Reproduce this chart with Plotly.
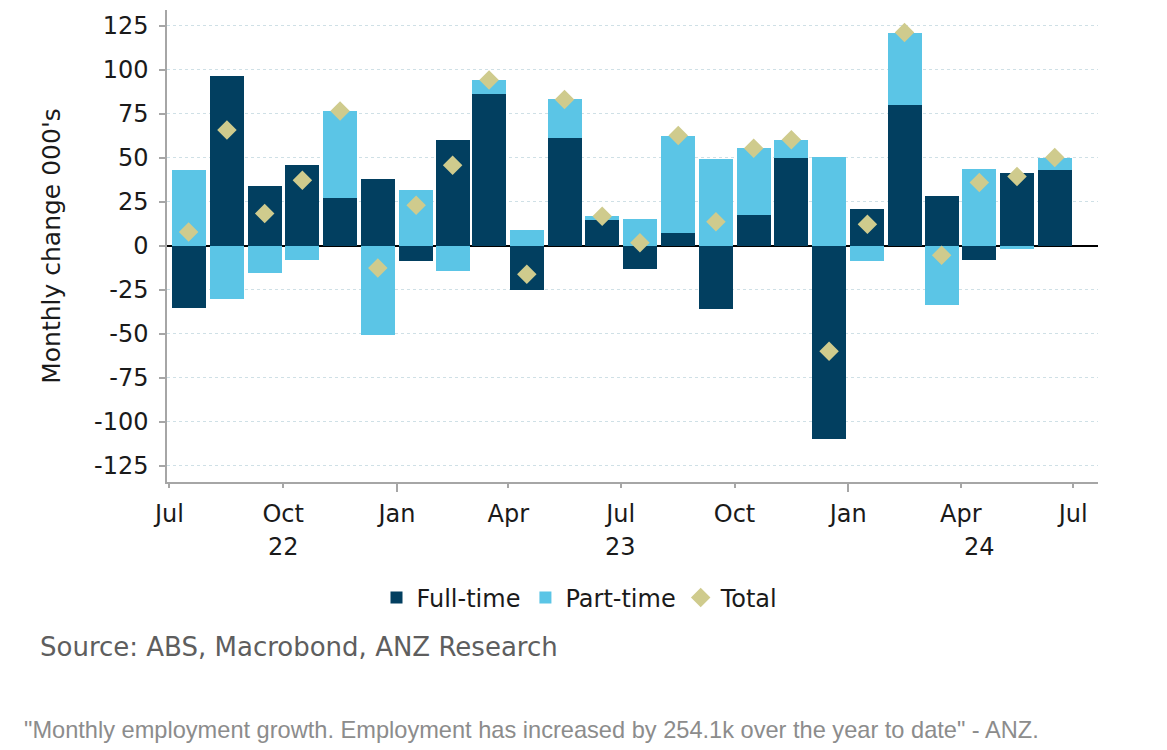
import plotly.graph_objects as go

months = ["2022-07-01", "2022-08-01", "2022-09-01", "2022-10-01", "2022-11-01", "2022-12-01",
          "2023-01-01", "2023-02-01", "2023-03-01", "2023-04-01", "2023-05-01", "2023-06-01",
          "2023-07-01", "2023-08-01", "2023-09-01", "2023-10-01", "2023-11-01", "2023-12-01",
          "2024-01-01", "2024-02-01", "2024-03-01", "2024-04-01", "2024-05-01", "2024-06-01"]

full_time = [-35.4, 96.2, 33.7, 45.6, 27.1, 37.9,
             -8.9, 60.2, 86.2, -25.2, 61.2, 14.8,
             -13.4, 7.0, -35.8, 17.6, 49.8, -110.0,
             20.8, 80.1, 28.2, -8.0, 41.1, 43.2]

part_time = [43.0, -30.5, -15.7, -8.3, 49.6, -50.8,
             31.8, -14.6, 7.9, 8.7, 21.9, 1.9,
             15.0, 55.5, 49.2, 37.7, 10.2, 50.2,
             -8.7, 40.9, -33.7, 43.8, -1.9, 6.8]

total = [7.8, 65.7, 18.2, 37.1, 76.5, -12.7,
         23.0, 45.7, 94.0, -16.2, 83.0, 16.7,
         1.7, 62.5, 13.6, 55.3, 60.1, -59.9,
         12.1, 121.0, -5.5, 35.9, 39.3, 50.0]

tick_vals = ["2022-07-01", "2022-10-01", "2023-01-01", "2023-04-01", "2023-07-01",
             "2023-10-01", "2024-01-01", "2024-04-01", "2024-07-01"]
tick_text = ["Jul", "Oct", "Jan", "Apr", "Jul", "Oct", "Jan", "Apr", "Jul"]

year_pos = ["2022-10-01", "2023-07-01", "2024-04-16"]
year_text = ["22", "23", "24"]

FT_COLOR = "#023f60"
PT_COLOR = "#5bc5e6"
TOT_COLOR = "#cfcb8d"
FONT = "DejaVu Sans"
DAY_MS = 86400000

# page offset (browser body margin)
OFF = 8
W, H = 1159, 742
plot_l, plot_r, plot_t, plot_b = 167 - OFF, 1098 - OFF, 10 - OFF, 482 - OFF

fig = go.Figure()
fig.add_trace(go.Bar(x=months, y=full_time, name="Full-time", marker_color=FT_COLOR,
                     marker_line_width=0, xperiod="M1", xperiodalignment="middle",
                     width=27.5 * DAY_MS))
fig.add_trace(go.Bar(x=months, y=part_time, name="Part-time", marker_color=PT_COLOR,
                     marker_line_width=0, xperiod="M1", xperiodalignment="middle",
                     width=27.5 * DAY_MS))
fig.add_trace(go.Scatter(x=months, y=total, name="Total", mode="markers",
                         marker=dict(symbol="diamond", size=15, color=TOT_COLOR),
                         xperiod="M1", xperiodalignment="middle"))


def px_to_paper(sx, sy):
    fx, fy = sx - OFF, sy - OFF
    return (fx - plot_l) / (plot_r - plot_l), (plot_b - fy) / (plot_b - plot_t)


leg_x, leg_y = px_to_paper(580, 598)

fig.update_layout(
    width=W, height=H,
    margin=dict(l=plot_l, r=W - plot_r, t=plot_t, b=H - plot_b),
    plot_bgcolor="white", paper_bgcolor="white",
    barmode="relative", bargap=0,
    font=dict(family=FONT, size=23, color="#1a1a1a"),
    showlegend=True,
    legend=dict(orientation="h", x=leg_x, xanchor="center", y=leg_y, yanchor="middle",
                font=dict(size=24, color="#1a1a1a"), itemwidth=30, traceorder="normal",
                tracegroupgap=0),
)

fig.update_xaxes(
    type="date", range=["2022-06-29", "2024-07-21"],
    tickvals=tick_vals, ticktext=tick_text,
    ticks="outside", ticklen=4, tickcolor="#a6a6a6", tickwidth=1.5,
    showline=True, linecolor="#a6a6a6", linewidth=1.5,
    showgrid=False, zeroline=False,
    tickfont=dict(size=24, color="#1a1a1a"),
    minor=dict(dtick="M12", tick0="2022-01-01", ticks="outside", ticklen=8,
               tickcolor="#a6a6a6", tickwidth=1.5, showgrid=False),
    ticklabelstandoff=5,
)

fig.update_yaxes(
    range=[-134.2, 133.8],
    tickvals=[-125, -100, -75, -50, -25, 0, 25, 50, 75, 100, 125],
    ticktext=["-125", "-100", "-75", "-50", "-25", "0", "25", "50", "75", "100", "125"],
    ticks="outside", ticklen=6, tickcolor="#a6a6a6", tickwidth=1.5,
    showline=True, linecolor="#a6a6a6", linewidth=1.5,
    showgrid=True, gridcolor="#cfe0e6", griddash="dot", gridwidth=1,
    zeroline=True, zerolinecolor="#000000", zerolinewidth=1.5,
    tickfont=dict(size=24, color="#1a1a1a"),
    ticklabelstandoff=6,
    title=dict(text="Monthly change 000's", font=dict(size=25, color="#1a1a1a"), standoff=26),
)

for xp, yt in zip(year_pos, year_text):
    fig.add_annotation(x=xp, y=0, yref="paper", yanchor="middle", yshift=-65,
                       text=yt, showarrow=False, font=dict(size=24, color="#1a1a1a"))

sx, sy = px_to_paper(38, 647)
fig.add_annotation(x=sx, y=sy, xref="paper", yref="paper", text="Source: ABS, Macrobond, ANZ Research",
                   showarrow=False, font=dict(size=26, color="#5e5e5e"), xanchor="left", yanchor="middle")

cx, cy = px_to_paper(22, 730)
fig.add_annotation(x=cx, y=cy, xref="paper", yref="paper",
                   text="\"Monthly employment growth. Employment has increased by 254.1k over the year to date\" - ANZ.",
                   showarrow=False, font=dict(family="Liberation Sans", size=23.6, color="#8c8c8c"),
                   xanchor="left", yanchor="middle")

fig.write_html("out.html")
